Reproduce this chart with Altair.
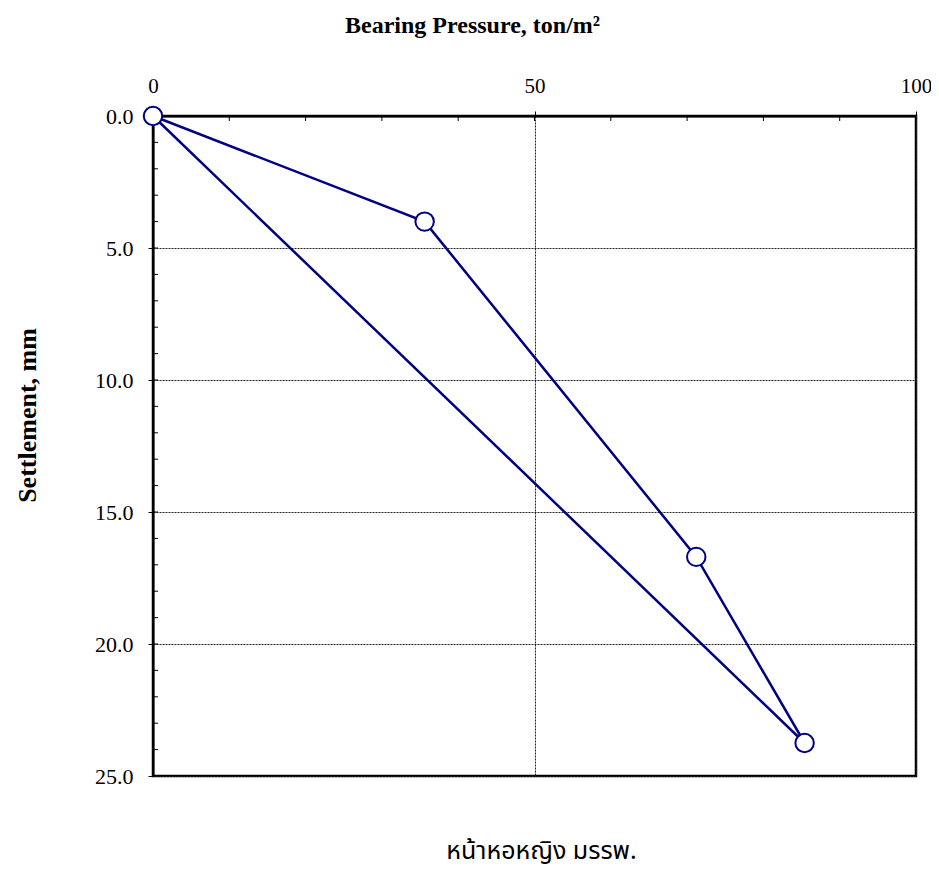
import altair as alt
import pandas as pd

# Load test path (loading then straight unloading back to origin)
pressure = [0, 35.6, 71.2, 85.4, 0]
settlement = [0, 4.0, 16.7, 23.75, 0]
marker_pressure = [0, 35.6, 71.2, 85.4]
marker_settlement = [0, 4.0, 16.7, 23.75]

x_major = [0, 50, 100]
y_major = [0, 5, 10, 15, 20, 25]
x_minor = [10, 20, 30, 40, 50, 60, 70, 80, 90]
y_minor = [1, 2, 3, 4, 5, 6, 7, 8, 9, 10, 11, 12, 13, 14, 15, 16, 17, 18, 19, 20, 21, 22, 23, 24]

NAVY = "#000080"
SERIF = "Liberation Serif"

path_df = pd.DataFrame({"p": pressure, "s": settlement, "o": list(range(len(pressure)))})
pts_df = pd.DataFrame({"p": marker_pressure, "s": marker_settlement})
xmin_df = pd.DataFrame({"v": x_minor})
ymin_df = pd.DataFrame({"v": y_minor})

xscale = alt.Scale(domain=[0, 100], nice=False, zero=False)
yscale = alt.Scale(domain=[0, 25], reverse=True, nice=False, zero=False)

xaxis = alt.Axis(
    orient="top", values=x_major, format="d", labelFlush=False,
    title="Bearing Pressure, ton/m²", titleFont=SERIF, titleFontSize=24,
    titleFontWeight="bold", titleColor="black",
    titleX=319, titleY=-84, titleAlign="center", titleBaseline="alphabetic",
    labelFont=SERIF, labelFontSize=21, labelColor="black", labelPadding=15,
    tickSize=5, tickColor="black", tickWidth=1,
    domainColor="black", domainWidth=2,
    grid=True, gridColor="#222222", gridDash=[2, 1], gridWidth=1,
)
yaxis = alt.Axis(
    orient="left", values=y_major, format=".1f", labelFlush=False,
    title="Settlement, mm", titleFont=SERIF, titleFontSize=26,
    titleFontWeight="bold", titleColor="black", titleAngle=270,
    titleX=-118, titleY=299, titleAlign="center", titleBaseline="alphabetic",
    labelFont=SERIF, labelFontSize=22, labelColor="black", labelPadding=15,
    tickSize=5, tickColor="black", tickWidth=1,
    domainColor="black", domainWidth=2,
    grid=True, gridColor="#222222", gridDash=[2, 1], gridWidth=1,
)

line = alt.Chart(path_df).mark_line(color=NAVY, strokeWidth=2.5).encode(
    x=alt.X("p:Q", scale=xscale, axis=xaxis),
    y=alt.Y("s:Q", scale=yscale, axis=yaxis),
    order="o:Q",
)

points = alt.Chart(pts_df).mark_point(
    shape="circle", filled=True, fill="white", stroke=NAVY, strokeWidth=2, size=340, opacity=1
).encode(
    x=alt.X("p:Q", scale=xscale),
    y=alt.Y("s:Q", scale=yscale),
)

xminor = alt.Chart(xmin_df).mark_rule(color="black", strokeWidth=1).encode(
    x=alt.X("v:Q", scale=xscale),
    y=alt.value(0), y2=alt.value(5),
)
yminor = alt.Chart(ymin_df).mark_rule(color="black", strokeWidth=1).encode(
    y=alt.Y("v:Q", scale=yscale),
    x=alt.value(0), x2=alt.value(5),
)

chart = alt.layer(xminor, yminor, line, points).properties(
    width=763, height=660,
    background="white",
    padding={"left": 145, "top": 108, "right": 15, "bottom": 95},
    autosize=alt.AutoSizeParams(type="none"),
    title=alt.TitleParams(
        text="หน้าหอหญิง มรรพ.", orient="bottom", anchor="middle",
        font="Noto Sans Thai, Noto Sans, sans-serif", fontSize=25, fontWeight="normal",
        color="black", baseline="top", offset=52, dx=7,
    ),
).configure_view(stroke="black", strokeWidth=2.5)

chart.save("out.html", embed_options={"renderer": "svg", "actions": False})
